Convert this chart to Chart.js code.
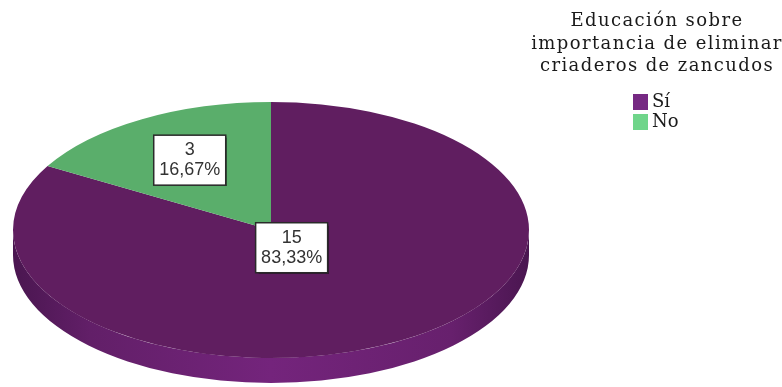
<!DOCTYPE html>
<html>
<head>
<meta charset="utf-8">
<script src="https://cdn.jsdelivr.net/npm/chart.js@4"></script>
<style>
html, body { margin: 0; padding: 0; background: #fff; }
#wrap { position: relative; width: 782px; height: 387px; overflow: hidden; }
#pie { position: absolute; left: 0; top: 0; }
#legendTitle {
    position: absolute; left: 517px; top: 9px; width: 280px;
    font-family: "DejaVu Serif", serif; font-size: 18px; line-height: 22.5px;
    letter-spacing: 1.4px; color: #1a1a1a; text-align: center;
}
.item { position: absolute; left: 633px; font-family: "DejaVu Serif", serif; font-size: 18px; color: #1a1a1a; }
.item span.box { position: absolute; left: 0; top: 0; width: 15px; height: 16px; }
.item span.txt { position: absolute; left: 19px; top: -4px; white-space: nowrap; }
</style>
</head>
<body>
<div id="wrap">
    <canvas id="pie" width="782" height="387"></canvas>
    <div id="legendTitle">Educación sobre<br>importancia de eliminar<br>criaderos de zancudos</div>
</div>
<script>
const labels = ['Sí', 'No'];
const counts = [15, 3];

const sliceColors = ['#601e60', '#5aae6b'];
const legendColors = ['#762983', '#6fd58a'];
const labelRadius = [0.16, 0.63]; // fraction of radius for the value boxes

// ellipse geometry of the tilted pie
const CX = 271, CY = 230, RX = 258, RY = 128, DEPTH = 25;

// legend items
labels.forEach((lab, i) => {
    const d = document.createElement('div');
    d.className = 'item';
    d.style.top = (94 + i * 20) + 'px';
    d.innerHTML = '<span class="box" style="background:' + legendColors[i] + '"></span><span class="txt">' + lab + '</span>';
    document.getElementById('wrap').appendChild(d);
});

const total = counts.reduce((a, b) => a + b, 0);

const pie3d = {
    id: 'pie3d',
    beforeDatasetsDraw(chart) {
        const ctx = chart.ctx;
        const arcs = chart.getDatasetMeta(0).data;
        // side wall (front half only)
        arcs.forEach((arc, i) => {
            const s = arc.startAngle, e = arc.endAngle;
            [[0, Math.PI], [2 * Math.PI, 3 * Math.PI]].forEach(([lo, hi]) => {
                const a0 = Math.max(s, lo), a1 = Math.min(e, hi);
                if (a1 <= a0) return;
                const g = ctx.createLinearGradient(CX - RX, 0, CX + RX, 0);
                g.addColorStop(0, '#4a1650');
                g.addColorStop(0.15, '#621f68');
                g.addColorStop(0.5, '#74247c');
                g.addColorStop(0.85, '#67206d');
                g.addColorStop(1, '#4a1650');
                ctx.save();
                ctx.beginPath();
                ctx.ellipse(CX, CY + DEPTH, RX, RY, 0, a0, a1);
                ctx.ellipse(CX, CY, RX, RY, 0, a1, a0, true);
                ctx.closePath();
                ctx.fillStyle = i === 0 ? g : sliceColors[i];
                ctx.fill();
                ctx.restore();
            });
        });
        const a = arcs[0];
        const R = a.outerRadius;
        ctx.save();
        ctx.translate(CX, CY);
        ctx.scale(RX / R, RY / R);
        ctx.translate(-a.x, -a.y);
    },
    afterDatasetsDraw(chart) {
        const ctx = chart.ctx;
        ctx.restore();
        const arcs = chart.getDatasetMeta(0).data;
        arcs.forEach((arc, i) => {
            const mid = (arc.startAngle + arc.endAngle) / 2;
            const x = CX + labelRadius[i] * RX * Math.cos(mid);
            const y = CY + labelRadius[i] * RY * Math.sin(mid);
            const w = 72, h = 50;
            ctx.save();
            ctx.shadowColor = 'rgba(0,0,0,0.45)';
            ctx.shadowOffsetX = 1;
            ctx.shadowOffsetY = 1;
            ctx.shadowBlur = 1;
            ctx.fillStyle = '#fff';
            ctx.fillRect(x - w / 2, y - h / 2, w, h);
            ctx.restore();
            ctx.save();
            ctx.strokeStyle = '#2a2a2a';
            ctx.lineWidth = 1.5;
            ctx.strokeRect(x - w / 2, y - h / 2, w, h);
            ctx.fillStyle = '#333';
            ctx.font = '18px "Liberation Sans", Arial, sans-serif';
            ctx.textAlign = 'center';
            ctx.textBaseline = 'middle';
            const pct = (counts[i] / total * 100).toFixed(2).replace('.', ',') + '%';
            ctx.fillText(String(counts[i]), x, y - 10);
            ctx.fillText(pct, x, y + 10);
            ctx.restore();
        });
    }
};

const ctx = document.getElementById('pie').getContext('2d');
const pieChart = new Chart(ctx, {
    type: 'pie',
    data: {
        labels: labels,
        datasets: [{
            data: counts,
            backgroundColor: sliceColors,
            borderWidth: 0
        }]
    },
    options: {
        responsive: false,
        animation: false,
        devicePixelRatio: 1,
        plugins: {
            legend: { display: false },
            tooltip: { enabled: false }
        }
    },
    plugins: [pie3d]
});
</script>
</body>
</html>
